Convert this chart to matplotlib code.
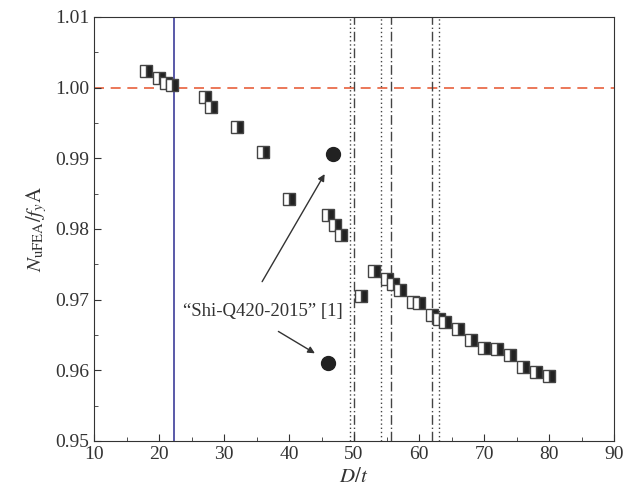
import numpy as np
import matplotlib.pyplot as plt
from matplotlib.ticker import MultipleLocator

plt.rcParams['font.family'] = ['Liberation Serif', 'DejaVu Serif']
plt.rcParams['mathtext.fontset'] = 'stix'

# FEA results
dt_fea = [18, 20, 21, 22, 27, 28, 32, 36, 40, 46, 47, 48, 51, 53, 55, 56, 57,
          59, 60, 62, 63, 64, 66, 68, 70, 72, 74, 76, 78, 80]
n_fea = [1.0023, 1.0013, 1.0007, 1.0003, 0.9986, 0.9972, 0.9944, 0.9909,
         0.9843, 0.9820, 0.9806, 0.9791, 0.9705, 0.9741, 0.9729, 0.9722,
         0.9714, 0.9697, 0.9695, 0.9678, 0.9673, 0.9669, 0.9658, 0.9643,
         0.9631, 0.9630, 0.9621, 0.9604, 0.9598, 0.9592]

# test specimens "Shi-Q420-2015"
dt_test = [46.8, 46.0]
n_test = [0.9906, 0.9611]

limit_blue = 22.3
dotted_x = [49.4, 54.2, 63.1]
dashdot_x = [50.0, 55.7, 62.0]

fig = plt.figure(figsize=(6.25, 4.98), dpi=100)
ax = fig.add_axes([0.1504, 0.1145, 0.832, 0.8516])

ax.axhline(1.0, color='#e8603c', ls=(0, (6, 4)), lw=1.2, zorder=1)
ax.axvline(limit_blue, color='#3d3d99', lw=1.2, zorder=1)
for x in dotted_x:
    ax.axvline(x, color='#444444', ls=(0, (1, 2)), lw=1.0, zorder=1)
for x in dashdot_x:
    ax.axvline(x, color='#444444', ls=(0, (7, 2, 1, 2)), lw=1.0, zorder=1)

ax.plot(dt_fea, n_fea, ls='none', marker='s', ms=9, fillstyle='right',
        markerfacecolor='#222222', markerfacecoloralt='white',
        markeredgecolor='#444444', markeredgewidth=1.0, zorder=3)
ax.plot(dt_test, n_test, ls='none', marker='o', ms=10,
        color='#222222', zorder=3)

ax.text(36.0, 0.9683, '\u201cShi-Q420-2015\u201d [1]', fontsize=13.5,
        ha='center', va='center', color='#333333')
ax.annotate('', xy=(45.7, 0.9881), xytext=(35.65, 0.9722),
            arrowprops=dict(arrowstyle='-|>', color='#333333', lw=1.0))
ax.annotate('', xy=(44.35, 0.9622), xytext=(38.0, 0.9657),
            arrowprops=dict(arrowstyle='-|>', color='#333333', lw=1.0))

ax.set_xlim(10, 90)
ax.set_ylim(0.95, 1.01)
ax.xaxis.set_major_locator(MultipleLocator(10))
ax.xaxis.set_minor_locator(MultipleLocator(5))
ax.yaxis.set_major_locator(MultipleLocator(0.01))
ax.yaxis.set_minor_locator(MultipleLocator(0.005))
ax.yaxis.set_major_formatter(plt.FormatStrFormatter('%.2f'))
ax.tick_params(which='both', direction='in', top=False, right=False,
               labelsize=14, colors='#333333')
ax.tick_params(which='major', length=5)
ax.tick_params(which='minor', length=3)
for s in ax.spines.values():
    s.set_color('#333333')

ax.set_xlabel('$D/t$', fontsize=15, color='#333333')
ax.set_ylabel(r'$N_{\mathrm{uFEA}}/f_y\mathrm{A}$', fontsize=15, color='#333333')

fig.savefig('out.png', dpi=100)
